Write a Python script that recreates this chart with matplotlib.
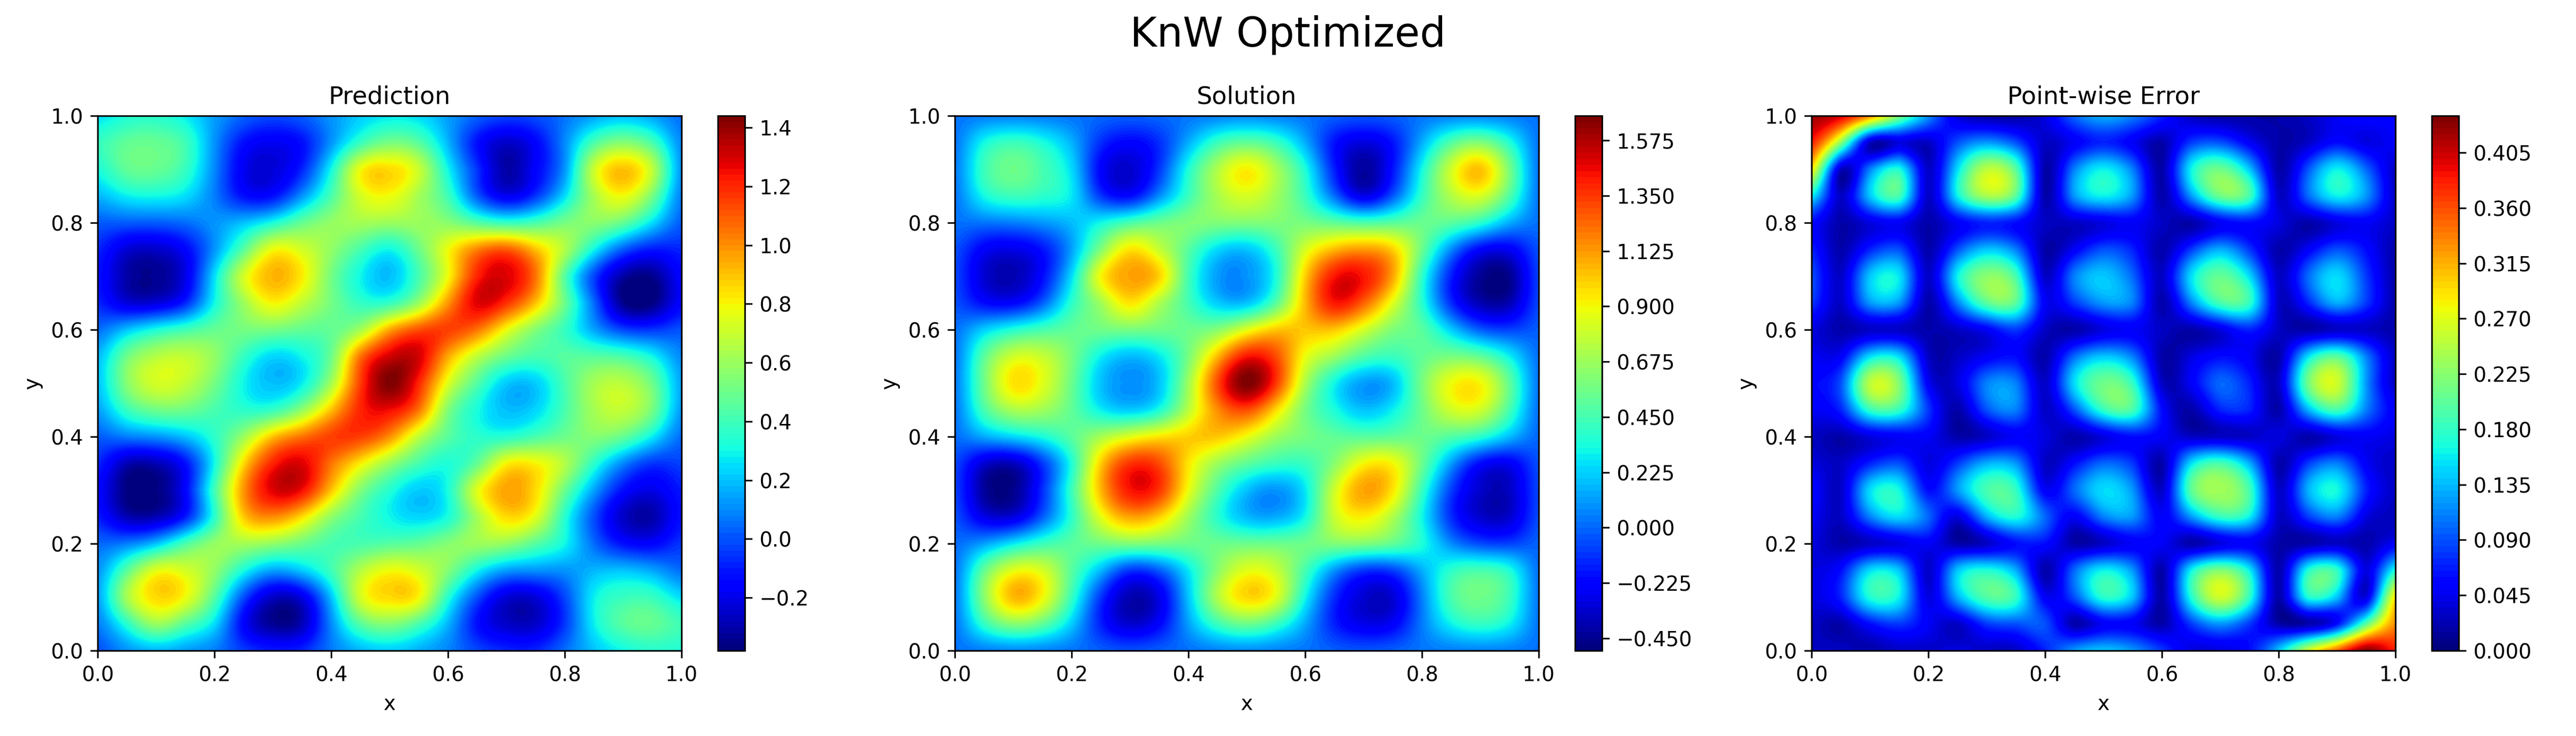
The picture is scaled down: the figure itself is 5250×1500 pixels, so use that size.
#!/usr/bin/env python3
import numpy as np
import matplotlib
matplotlib.use('Agg')
import matplotlib.pyplot as plt
from matplotlib.colors import BoundaryNorm

# values at x = 0, 0.05, ... 1; rows run from y = 1 down to y = 0
prediction = [
    [.25,.33,.35,.28,.14,.03,-.02,.02,.12,.22,.27,.25,.14,.03,-.03,-.01,.06,.15,.20,.15,.05],
    [.38,.47,.48,.40,.12,-.12,-.18,-.12,.12,.38,.52,.45,.18,-.12,-.25,-.15,.10,.42,.55,.42,.10],
    [.32,.47,.48,.38,.10,-.18,-.22,-.08,.30,.78,.85,.70,.30,-.05,-.30,-.15,.12,.70,.90,.68,.12],
    [.18,.28,.30,.25,.08,-.12,-.12,.12,.42,.72,.78,.62,.40,.02,-.18,-.05,.25,.62,.78,.52,.08],
    [.02,.02,.02,.05,.12,.20,.32,.48,.58,.62,.60,.60,.56,.45,.38,.42,.52,.56,.48,.25,.02],
    [-.08,-.23,-.25,-.15,.12,.45,.78,.72,.58,.42,.30,.50,.78,1.02,1.10,.90,.65,.30,.02,-.10,-.08],
    [-.12,-.30,-.33,-.20,.25,.72,.92,.82,.52,.30,.20,.42,.78,1.20,1.28,1.05,.45,-.02,-.30,-.34,-.15],
    [-.08,-.22,-.22,-.08,.30,.60,.80,.68,.52,.38,.38,.60,.98,1.28,1.18,.90,.50,.05,-.34,-.36,-.15],
    [.05,.20,.32,.40,.48,.52,.52,.48,.48,.62,.95,1.12,1.15,1.05,.78,.55,.38,.15,-.02,-.05,.00],
    [.18,.50,.65,.68,.58,.38,.24,.30,.50,1.05,1.30,1.30,.95,.68,.50,.42,.45,.45,.42,.30,.10],
    [.20,.55,.72,.68,.52,.30,.20,.28,.62,1.15,1.43,1.20,.75,.45,.22,.22,.42,.62,.66,.50,.15],
    [.14,.38,.50,.50,.42,.36,.38,.58,.90,1.20,1.25,1.05,.55,.32,.20,.24,.42,.62,.68,.52,.13],
    [.02,.08,.12,.20,.36,.60,.90,1.05,1.15,1.15,1.00,.68,.46,.36,.35,.42,.50,.55,.48,.28,.05],
    [-.08,-.28,-.28,-.12,.30,.85,1.20,1.28,1.05,.82,.60,.42,.33,.48,.80,.80,.65,.36,.10,-.05,-.03],
    [-.15,-.36,-.36,-.15,.40,.98,1.28,1.25,.90,.55,.35,.22,.32,.75,.95,.85,.50,.15,-.12,-.20,-.10],
    [-.10,-.28,-.28,-.10,.35,.88,1.00,.85,.58,.42,.30,.24,.32,.62,.85,.75,.35,.00,-.25,-.30,-.12],
    [.04,.08,.20,.42,.58,.62,.58,.50,.42,.42,.45,.48,.55,.60,.58,.45,.30,.05,-.12,-.15,-.05],
    [.12,.45,.75,.72,.58,.32,.15,.22,.40,.65,.78,.72,.55,.30,.14,.12,.12,.18,.20,.15,.05],
    [.14,.62,.85,.78,.45,.00,-.25,-.20,.20,.72,.85,.80,.35,.00,-.22,-.22,-.02,.28,.38,.38,.25],
    [.08,.35,.60,.45,.25,-.15,-.33,-.28,.10,.45,.55,.42,.18,-.12,-.25,-.25,-.05,.28,.45,.48,.40],
    [.00,.12,.18,.14,.08,-.04,-.10,-.08,.07,.18,.22,.17,.09,-.02,-.08,-.08,.05,.20,.30,.35,.33],
]

solution = [
    [.03,.05,.06,.05,.03,.00,-.02,.00,.03,.06,.08,.06,.03,-.02,-.04,-.02,.03,.06,.07,.05,.02],
    [.03,.32,.42,.34,.16,-.12,-.22,-.12,.15,.42,.52,.42,.15,-.18,-.30,-.18,.15,.48,.60,.36,.03],
    [.04,.42,.55,.45,.25,-.22,-.33,-.10,.35,.72,.92,.70,.35,-.15,-.42,-.18,.32,.80,1.03,.58,.03],
    [.03,.32,.42,.38,.28,-.10,-.20,.08,.42,.70,.82,.68,.42,.02,-.28,-.03,.40,.72,.82,.48,.03],
    [.02,.03,.05,.10,.18,.32,.46,.55,.60,.60,.60,.60,.58,.52,.47,.50,.54,.50,.38,.15,.02],
    [-.05,-.24,-.28,-.18,.12,.60,.95,.78,.50,.25,.20,.42,.82,1.05,1.12,1.00,.55,.08,-.22,-.25,-.05],
    [-.07,-.32,-.38,-.20,.25,.90,1.10,1.00,.45,.12,.10,.35,1.00,1.42,1.42,1.10,.40,-.15,-.43,-.45,-.08],
    [-.05,-.20,-.22,-.02,.38,.68,.95,.72,.45,.22,.20,.50,1.05,1.42,1.25,.85,.38,-.12,-.38,-.38,-.07],
    [.02,.22,.36,.45,.52,.56,.58,.56,.55,.62,.85,1.02,1.02,1.02,.82,.60,.50,.22,-.02,-.08,-.02],
    [.03,.50,.80,.78,.58,.30,.18,.28,.58,1.05,1.42,1.30,.88,.68,.48,.42,.52,.58,.52,.30,.02],
    [.04,.55,.95,.85,.55,.20,.10,.20,.68,1.30,1.67,1.35,.72,.32,.12,.18,.58,.88,.90,.52,.03],
    [.03,.45,.70,.68,.52,.30,.22,.35,.75,1.15,1.30,.98,.58,.35,.20,.30,.55,.80,.80,.45,.02],
    [.01,.14,.24,.34,.50,.70,.85,.95,1.00,1.02,.88,.68,.58,.52,.50,.52,.55,.48,.38,.18,.00],
    [-.07,-.32,-.36,-.10,.35,1.00,1.35,1.30,.95,.68,.52,.42,.42,.62,.90,.90,.55,.12,-.20,-.25,-.05],
    [-.08,-.42,-.45,-.12,.42,1.05,1.42,1.35,.88,.48,.20,.10,.28,.80,1.10,.95,.42,-.08,-.33,-.35,-.07],
    [-.05,-.28,-.30,-.02,.38,.85,1.10,1.00,.68,.38,.18,.15,.32,.78,.92,.72,.32,-.12,-.33,-.33,-.06],
    [.01,.12,.28,.42,.50,.56,.60,.58,.55,.55,.55,.55,.55,.60,.60,.52,.35,.08,-.06,-.08,-.01],
    [.03,.52,.85,.82,.50,.18,-.10,-.02,.28,.62,.85,.78,.45,.10,-.10,-.08,.15,.38,.45,.35,.02],
    [.04,.62,1.05,.90,.42,-.10,-.38,-.28,.20,.72,.98,.85,.32,-.12,-.32,-.32,.05,.45,.55,.42,.03],
    [.03,.40,.62,.52,.22,-.15,-.33,-.22,.12,.42,.55,.42,.14,-.15,-.28,-.24,.04,.30,.40,.30,.03],
    [.02,.05,.07,.06,.03,-.02,-.05,-.02,.02,.06,.08,.06,.03,-.02,-.04,-.02,.03,.05,.06,.05,.02],
]

error = [
    [.42,.40,.33,.22,.12,.04,.02,.02,.04,.10,.13,.11,.07,.03,.02,.02,.02,.03,.05,.06,.05],
    [.38,.23,.03,.04,.03,.09,.12,.09,.03,.05,.07,.05,.02,.08,.09,.05,.02,.03,.06,.04,.05],
    [.29,.03,.11,.17,.03,.15,.25,.20,.02,.11,.16,.11,.02,.16,.21,.14,.02,.09,.16,.10,.03],
    [.16,.03,.14,.19,.03,.16,.24,.20,.02,.12,.16,.12,.02,.12,.21,.19,.03,.10,.16,.12,.03],
    [.06,.02,.04,.05,.02,.05,.07,.06,.03,.03,.04,.05,.03,.02,.05,.06,.04,.02,.04,.05,.03],
    [.07,.02,.07,.09,.02,.09,.14,.11,.02,.05,.09,.07,.02,.08,.13,.08,.02,.05,.09,.06,.02],
    [.09,.03,.14,.155,.03,.16,.225,.19,.03,.11,.14,.10,.03,.15,.205,.15,.03,.10,.15,.08,.02],
    [.08,.03,.12,.12,.02,.11,.20,.20,.05,.08,.12,.11,.02,.11,.19,.18,.03,.07,.13,.08,.02],
    [.04,.02,.03,.03,.02,.03,.05,.08,.03,.02,.04,.05,.03,.02,.04,.07,.03,.02,.03,.03,.02],
    [.05,.05,.15,.15,.03,.03,.05,.06,.02,.10,.14,.11,.02,.04,.06,.05,.02,.15,.20,.11,.03],
    [.06,.09,.25,.22,.05,.04,.11,.11,.03,.15,.21,.18,.03,.05,.10,.07,.03,.21,.26,.12,.03],
    [.05,.07,.18,.18,.08,.02,.09,.11,.03,.09,.18,.19,.06,.02,.07,.07,.02,.13,.19,.11,.05],
    [.03,.02,.04,.05,.05,.02,.03,.05,.04,.02,.04,.06,.05,.03,.03,.03,.04,.02,.04,.05,.04],
    [.04,.03,.07,.09,.04,.08,.13,.12,.03,.06,.10,.08,.02,.15,.19,.13,.02,.08,.11,.05,.03],
    [.06,.03,.15,.165,.06,.12,.19,.18,.05,.10,.15,.12,.03,.20,.235,.19,.03,.13,.165,.07,.03],
    [.05,.03,.11,.15,.10,.04,.13,.17,.10,.05,.11,.12,.05,.12,.18,.16,.03,.08,.11,.04,.03],
    [.04,.02,.03,.04,.05,.02,.03,.06,.06,.02,.03,.05,.05,.02,.04,.05,.02,.02,.03,.02,.05],
    [.04,.06,.15,.14,.03,.14,.17,.13,.02,.10,.16,.12,.02,.16,.22,.16,.02,.17,.18,.04,.17],
    [.04,.07,.17,.16,.04,.13,.195,.18,.05,.09,.175,.14,.02,.17,.26,.18,.02,.17,.14,.04,.29],
    [.03,.02,.06,.08,.05,.03,.08,.09,.09,.02,.05,.05,.02,.08,.12,.08,.02,.02,.06,.20,.33],
    [.03,.03,.02,.03,.03,.04,.03,.03,.07,.12,.14,.12,.08,.04,.04,.06,.14,.26,.35,.43,.38],
]

titles = ['Prediction', 'Solution', 'Point-wise Error']
pred_ticks = [-0.2, 0.0, 0.2, 0.4, 0.6, 0.8, 1.0, 1.2, 1.4]
sol_ticks = [-0.45, -0.225, 0.0, 0.225, 0.45, 0.675, 0.9, 1.125, 1.35, 1.575]
err_ticks = [0.0, 0.045, 0.09, 0.135, 0.18, 0.225, 0.27, 0.315, 0.36, 0.405]
axis_ticks = [0.0, 0.2, 0.4, 0.6, 0.8, 1.0]

W, H = 5250, 1500


def box(x0, x1, y0, y1):
    # pixel box (from top-left) to figure fractions
    return [x0 / W, 1 - y1 / H, (x1 - x0) / W, (y1 - y0) / H]


fig = plt.figure(figsize=(W / 300, H / 300), dpi=300)

panels = [
    (prediction, pred_ticks, -0.38, 1.44, 0.02, 199, 1389, 1463, 1518),
    (solution, sol_ticks, -0.5, 1.675, 0.025, 1946, 3136, 3210, 3265),
    (error, err_ticks, 0.0, 0.435, 0.005, 3692, 4882, 4956, 5011),
]

for (vals, ticks, vmin, vmax, step, ax0, ax1, cb0, cb1), title in zip(panels, titles):
    ax = fig.add_axes(box(ax0, ax1, 236, 1326))
    cax = fig.add_axes(box(cb0, cb1, 236, 1326))
    levels = np.linspace(vmin, vmax, int(round((vmax - vmin) / step)) + 1)
    norm = BoundaryNorm(levels, 256, clip=True)
    # spline16 passes through the read values, bicubic smooths them away
    im = ax.imshow(np.array(vals), extent=(-0.025, 1.025, -0.025, 1.025), origin='upper',
                   cmap='jet', norm=norm, aspect='auto',
                   interpolation='spline16', interpolation_stage='data')
    ax.set_xlim(0, 1)
    ax.set_ylim(0, 1)
    ax.set_xticks(axis_ticks)
    ax.set_yticks(axis_ticks)
    ax.set_xlabel('x')
    ax.set_ylabel('y')
    ax.set_title(title)
    cb = fig.colorbar(im, cax=cax, ticks=ticks, spacing='proportional')
    cb.minorticks_off()

fig.text(0.5, 1 - 95 / H, 'KnW Optimized', fontsize=20, ha='center', va='baseline')
fig.savefig('out.png', dpi=300)
